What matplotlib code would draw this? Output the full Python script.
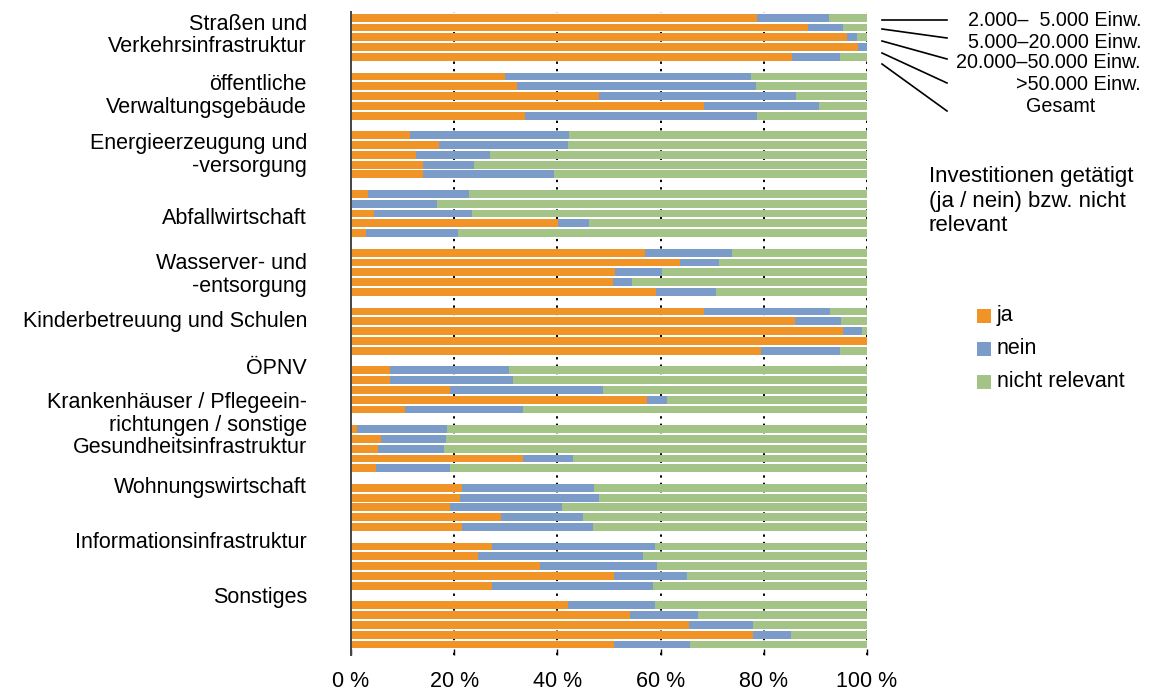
import matplotlib
matplotlib.use("Agg")
import matplotlib.pyplot as plt
from matplotlib.lines import Line2D
from matplotlib.patches import Rectangle
import numpy as np

plt.rcParams['font.family'] = ['Liberation Sans', 'DejaVu Sans']

# Investment areas (top to bottom)
categories = [
    "Straßen und\nVerkehrsinfrastruktur",
    "öffentliche\nVerwaltungsgebäude",
    "Energieerzeugung und\n-versorgung",
    "Abfallwirtschaft",
    "Wasserver- und\n-entsorgung",
    "Kinderbetreuung und Schulen",
    "ÖPNV",
    "Krankenhäuser / Pflegeein-\nrichtungen / sonstige\nGesundheitsinfrastruktur",
    "Wohnungswirtschaft",
    "Informationsinfrastruktur",
    "Sonstiges",
]

# Municipality size classes (bar order within each area)
size_classes = [
    "2.000–  5.000 Einw.",
    "5.000–20.000 Einw.",
    "20.000–50.000 Einw.",
    ">50.000 Einw.",
    "Gesamt",
]

series_names = ["ja", "nein", "nicht relevant"]

# Shares in percent, one row per area, one column per size class
ja = [
    [78.7, 88.6, 96.1, 98.3, 85.4],
    [29.9, 32.1, 48.0, 68.4, 33.7],
    [11.5, 17.1, 12.6, 13.9, 13.9],
    [3.2, 0.0, 4.4, 40.2, 2.9],
    [57.0, 63.7, 51.2, 50.8, 59.1],
    [68.4, 86.0, 95.4, 100.0, 79.4],
    [7.5, 7.5, 19.1, 57.4, 10.4],
    [1.2, 5.9, 5.3, 33.3, 4.8],
    [21.6, 21.2, 19.1, 29.1, 21.6],
    [27.4, 24.6, 36.6, 50.9, 27.4],
    [42.0, 54.0, 65.5, 77.9, 51.0],
]
nein = [
    [14.0, 6.8, 2.0, 1.7, 9.4],
    [47.6, 46.4, 38.2, 22.3, 45.0],
    [30.7, 24.9, 14.3, 9.9, 25.4],
    [19.6, 16.6, 19.0, 5.9, 17.8],
    [16.8, 7.6, 9.1, 3.6, 11.6],
    [24.5, 9.0, 3.7, 0.0, 15.4],
    [23.2, 23.8, 29.7, 3.9, 23.0],
    [17.4, 12.5, 12.7, 9.7, 14.3],
    [25.5, 26.8, 21.8, 15.9, 25.3],
    [31.5, 32.0, 22.7, 14.2, 31.1],
    [16.9, 13.3, 12.4, 7.4, 14.7],
]
nicht_relevant = [
    [7.3, 4.6, 1.9, 0.0, 5.2],
    [22.5, 21.5, 13.8, 9.3, 21.3],
    [57.8, 58.0, 73.1, 76.2, 60.7],
    [77.2, 83.4, 76.6, 53.9, 79.3],
    [26.2, 28.7, 39.7, 45.6, 29.3],
    [7.1, 5.0, 0.9, 0.0, 5.2],
    [69.3, 68.7, 51.2, 38.7, 66.6],
    [81.4, 81.6, 82.0, 57.0, 80.9],
    [52.9, 52.0, 59.1, 55.0, 53.1],
    [41.1, 43.4, 40.7, 34.9, 41.5],
    [41.1, 32.7, 22.1, 14.7, 34.3],
]

x_ticks = [0, 20, 40, 60, 80, 100]
x_tick_labels = ["0 %", "20 %", "40 %", "60 %", "80 %", "100 %"]

legend_title = "Investitionen getätigt\n(ja / nein) bzw. nicht\nrelevant"

colors = ["#F09428", "#7B9CC8", "#A4C386"]
FS = 15.5
FS_KEY = 14.2

W, H = 1169, 690
fig = plt.figure(figsize=(W / 100, H / 100), dpi=100)


def fx(px):
    return px / W


def fy(py):
    return 1 - py / H


ax_left, ax_right, ax_top, ax_bottom = 351, 867, 12, 655
ax = fig.add_axes([fx(ax_left), fy(ax_bottom), fx(ax_right - ax_left), (ax_bottom - ax_top) / H])

n_groups = len(categories)
n_bars = len(size_classes)
slots_per_group = n_bars + 1
bar_h = 0.8

positions = np.array([[g * slots_per_group + b for b in range(n_bars)] for g in range(n_groups)], dtype=float)

ja_a = np.array(ja)
nein_a = np.array(nein)
nr_a = np.array(nicht_relevant)

for vals, left, col in [
    (ja_a, np.zeros_like(ja_a), colors[0]),
    (nein_a, ja_a, colors[1]),
    (nr_a, ja_a + nein_a, colors[2]),
]:
    ax.barh(positions.ravel(), vals.ravel(), left=left.ravel(), height=bar_h,
            color=col, edgecolor="none", zorder=2)

last = positions.max()
pitch = (644.5 - 17.7) / last
ax.set_ylim(last + (ax_bottom - 644.5) / pitch, -(17.7 - ax_top) / pitch)
ax.set_xlim(0, 100)

ax.set_yticks([])
ax.set_xticks(x_ticks)
ax.set_xticklabels(x_tick_labels, fontsize=FS)
ax.tick_params(axis="x", direction="in", length=4.5, width=1.0, color="black", pad=11.5)

for s in ["top", "right", "bottom"]:
    ax.spines[s].set_visible(False)
ax.spines["left"].set_color("#444444")
ax.spines["left"].set_linewidth(1.4)
ax.spines["left"].set_zorder(3)

ax.set_axisbelow(True)
for xv in x_ticks[1:]:
    ax.axvline(xv, color="black", linewidth=1.4, linestyle=(0, (1.2, 2.6)), zorder=1)

# Area labels to the left of the bars
label_centers = [35.5, 96, 155, 219, 275, 321, 368, 425, 488, 543, 597]
for text, cy in zip(categories, label_centers):
    fig.text(fx(307), fy(cy), text, ha="right", va="center", fontsize=FS,
             linespacing=1.08)

# Size-class key with leader lines
leader_lines = [
    ((882, 19.5), (947, 19.5)),
    ((882, 29), (947, 38)),
    ((882, 41), (947, 59)),
    ((882, 53), (947, 83)),
    ((882, 64), (947, 111)),
]
for (x0, y0), (x1, y1) in leader_lines:
    fig.add_artist(Line2D([fx(x0), fx(x1)], [fy(y0), fy(y1)], color="black",
                          linewidth=1.2, transform=fig.transFigure))

key_pos = [(1141, 20, "right"), (1141, 42, "right"), (1141, 63, "right"),
           (1141, 84, "right"), (1026, 107, "left")]
for name, (kx, ky, ha) in zip(size_classes, key_pos):
    fig.text(fx(kx), fy(ky), name, ha=ha, va="center", fontsize=FS_KEY)

# Colour legend
fig.text(fx(929), fy(201), legend_title, ha="left", va="center", fontsize=16,
         linespacing=1.2)
for i, (name, col) in enumerate(zip(series_names, colors)):
    cy = 316 + i * 33
    fig.add_artist(Rectangle((fx(977), fy(cy + 7)), fx(14), 14 / H, facecolor=col,
                             edgecolor="none", transform=fig.transFigure))
    fig.text(fx(997), fy(cy), name, ha="left", va="center", fontsize=FS)

fig.savefig("out.png", dpi=100)
